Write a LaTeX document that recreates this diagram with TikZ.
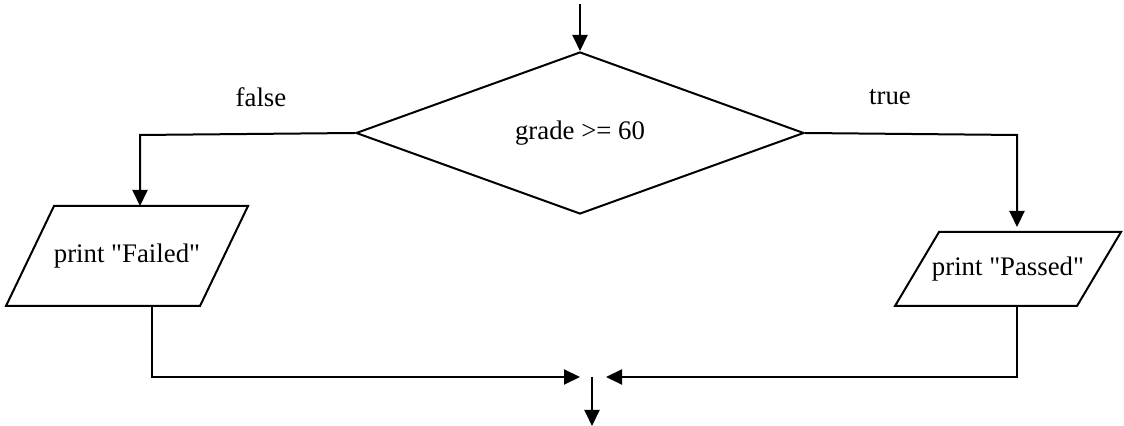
\documentclass[tikz,border=0pt]{standalone}
\usepackage{fontspec}
\setmainfont{Liberation Serif}[Ligatures=TeXOff]
\usetikzlibrary{arrows.meta,shapes.geometric}

\begin{document}
\begin{tikzpicture}[x=0.5pt,y=-0.5pt,font=\fontsize{13.4}{16}\selectfont,line width=1pt,
  dec/.style={draw,diamond,inner sep=0pt,minimum width=224pt,minimum height=81pt},
  io/.style={inner sep=0pt},
  flow/.style={-{Triangle[length=8pt,width=7.5pt]}}]
  \useasboundingbox (0,0) rectangle (1124,426);
  \node[dec] (dec) at (580,133) {grade >= 60};
  \node[io,minimum width=96pt,minimum height=49pt] (fail) at (127,256) {print "Failed"};
  \node[io,minimum width=90pt,minimum height=36pt] (pass) at (1008,269) {print "Passed"};
  \foreach \n/\s in {fail/12pt,pass/11pt}{
    \draw ([xshift=\s]\n.north west) -- ([xshift=\s]\n.north east) -- ([xshift=-\s]\n.south east) -- ([xshift=-\s]\n.south west) -- cycle;}
  \node (f) at (261,97) {false};
  \node (t) at (890,97) {true};
  \coordinate (top) at (580,4);
  \coordinate (fl) at (140,135);
  \coordinate (tr) at (1017,135);
  \coordinate (bl) at (152,377);
  \coordinate (br) at (1017,377);
  \coordinate (mL) at (580,377);
  \coordinate (mR) at (606,377);
  \coordinate (m) at (592,377);
  \coordinate (end) at (592,426);
  \draw[flow] (top) -- (dec.north);
  \draw[flow] (dec.west) -- (fl) -- (fl |- fail.north);
  \draw[flow] (dec.east) -- (tr) -- ([yshift=2.5pt]tr |- pass.north);
  \draw[flow] (bl |- fail.south) -- (bl) -- (mL);
  \draw[flow] (br |- pass.south) -- (br) -- (mR);
  \draw[flow] (m) -- (end);
\end{tikzpicture}
\end{document}
